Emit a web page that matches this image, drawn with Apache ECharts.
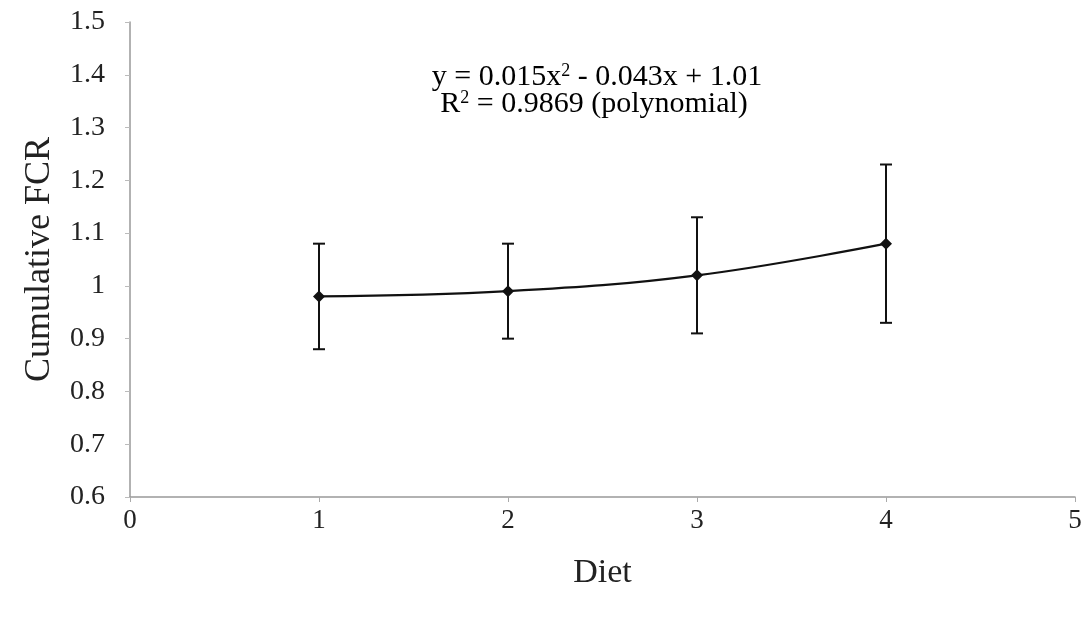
<!DOCTYPE html>
<html><head><meta charset="utf-8">
<script src="https://cdn.jsdelivr.net/npm/echarts@6/dist/echarts.min.js"></script>
<style>html,body{margin:0;padding:0;background:#fff}#c{width:1091px;height:617px}</style>
</head><body><div id="c"></div>
<script>
var diets = [1, 2, 3, 4];
var fcrMean = [0.98, 0.99, 1.02, 1.08];
var fcrErr = [0.10, 0.09, 0.11, 0.15];
var xTitle = 'Diet';
var yTitle = 'Cumulative FCR';

var font = 'Liberation Serif';
var chart = echarts.init(document.getElementById('c'));
var meanData = diets.map(function (d, i) { return [d, fcrMean[i]]; });
var errData = diets.map(function (d, i) { return [d, fcrMean[i] - fcrErr[i], fcrMean[i] + fcrErr[i]]; });

var richEq = {
  n: { fontFamily: font, fontSize: 30, color: '#222', lineHeight: 30, verticalAlign: 'bottom' },
  s: { fontFamily: font, fontSize: 18, color: '#222', lineHeight: 30, verticalAlign: 'top', padding: [0, 0, 12, 0] }
};

chart.setOption({
  backgroundColor: '#fff',
  animation: false,
  grid: { left: 130, right: 16, top: 22, bottom: 120 },
  xAxis: {
    type: 'value', min: 0, max: 5, interval: 1,
    name: xTitle, nameLocation: 'middle', nameGap: 59,
    nameTextStyle: { fontFamily: font, fontSize: 34, color: '#222' },
    axisLine: { lineStyle: { color: '#999', width: 1.5 } },
    axisTick: { show: true, length: 5, lineStyle: { color: '#aaa' } },
    axisLabel: { fontFamily: font, fontSize: 27, color: '#222', margin: 10 },
    splitLine: { show: false }
  },
  yAxis: {
    type: 'value', min: 0.6, max: 1.5, interval: 0.1,
    name: yTitle, nameLocation: 'middle', nameGap: 72, nameRotate: 90,
    nameTextStyle: { fontFamily: font, fontSize: 36, color: '#222' },
    axisLine: { show: true, lineStyle: { color: '#999', width: 1.5 } },
    axisTick: { show: true, length: 5, lineStyle: { color: '#bbb' } },
    axisLabel: { fontFamily: font, fontSize: 28, color: '#222', margin: 25,
      formatter: function (v) { return String(Math.round(v * 10) / 10); } },
    splitLine: { show: false }
  },
  graphic: [
    { type: 'text', x: 597, y: 77, style: {
        text: '{n|y = 0.015x}{s|2}{n| - 0.043x + 1.01}', rich: richEq,
        align: 'center', verticalAlign: 'middle' } },
    { type: 'text', x: 594, y: 104, style: {
        text: '{n|R}{s|2}{n| = 0.9869 (polynomial)}', rich: richEq,
        align: 'center', verticalAlign: 'middle' } }
  ],
  series: [
    {
      type: 'custom',
      renderItem: function (params, api) {
        var x = api.value(0);
        var lo = api.coord([x, api.value(1)]);
        var hi = api.coord([x, api.value(2)]);
        var w = 6;
        var st = { stroke: '#111', lineWidth: 2 };
        return { type: 'group', children: [
          { type: 'line', shape: { x1: lo[0], y1: lo[1], x2: hi[0], y2: hi[1] }, style: st },
          { type: 'line', shape: { x1: lo[0] - w, y1: lo[1], x2: lo[0] + w, y2: lo[1] }, style: st },
          { type: 'line', shape: { x1: hi[0] - w, y1: hi[1], x2: hi[0] + w, y2: hi[1] }, style: st }
        ] };
      },
      encode: { x: 0, y: [1, 2] },
      data: errData,
      z: 2
    },
    {
      type: 'line',
      data: meanData,
      smooth: 0.4,
      symbol: 'diamond', symbolSize: 12,
      itemStyle: { color: '#111' },
      lineStyle: { color: '#111', width: 2.2 },
      z: 3
    }
  ]
});
</script></body></html>
